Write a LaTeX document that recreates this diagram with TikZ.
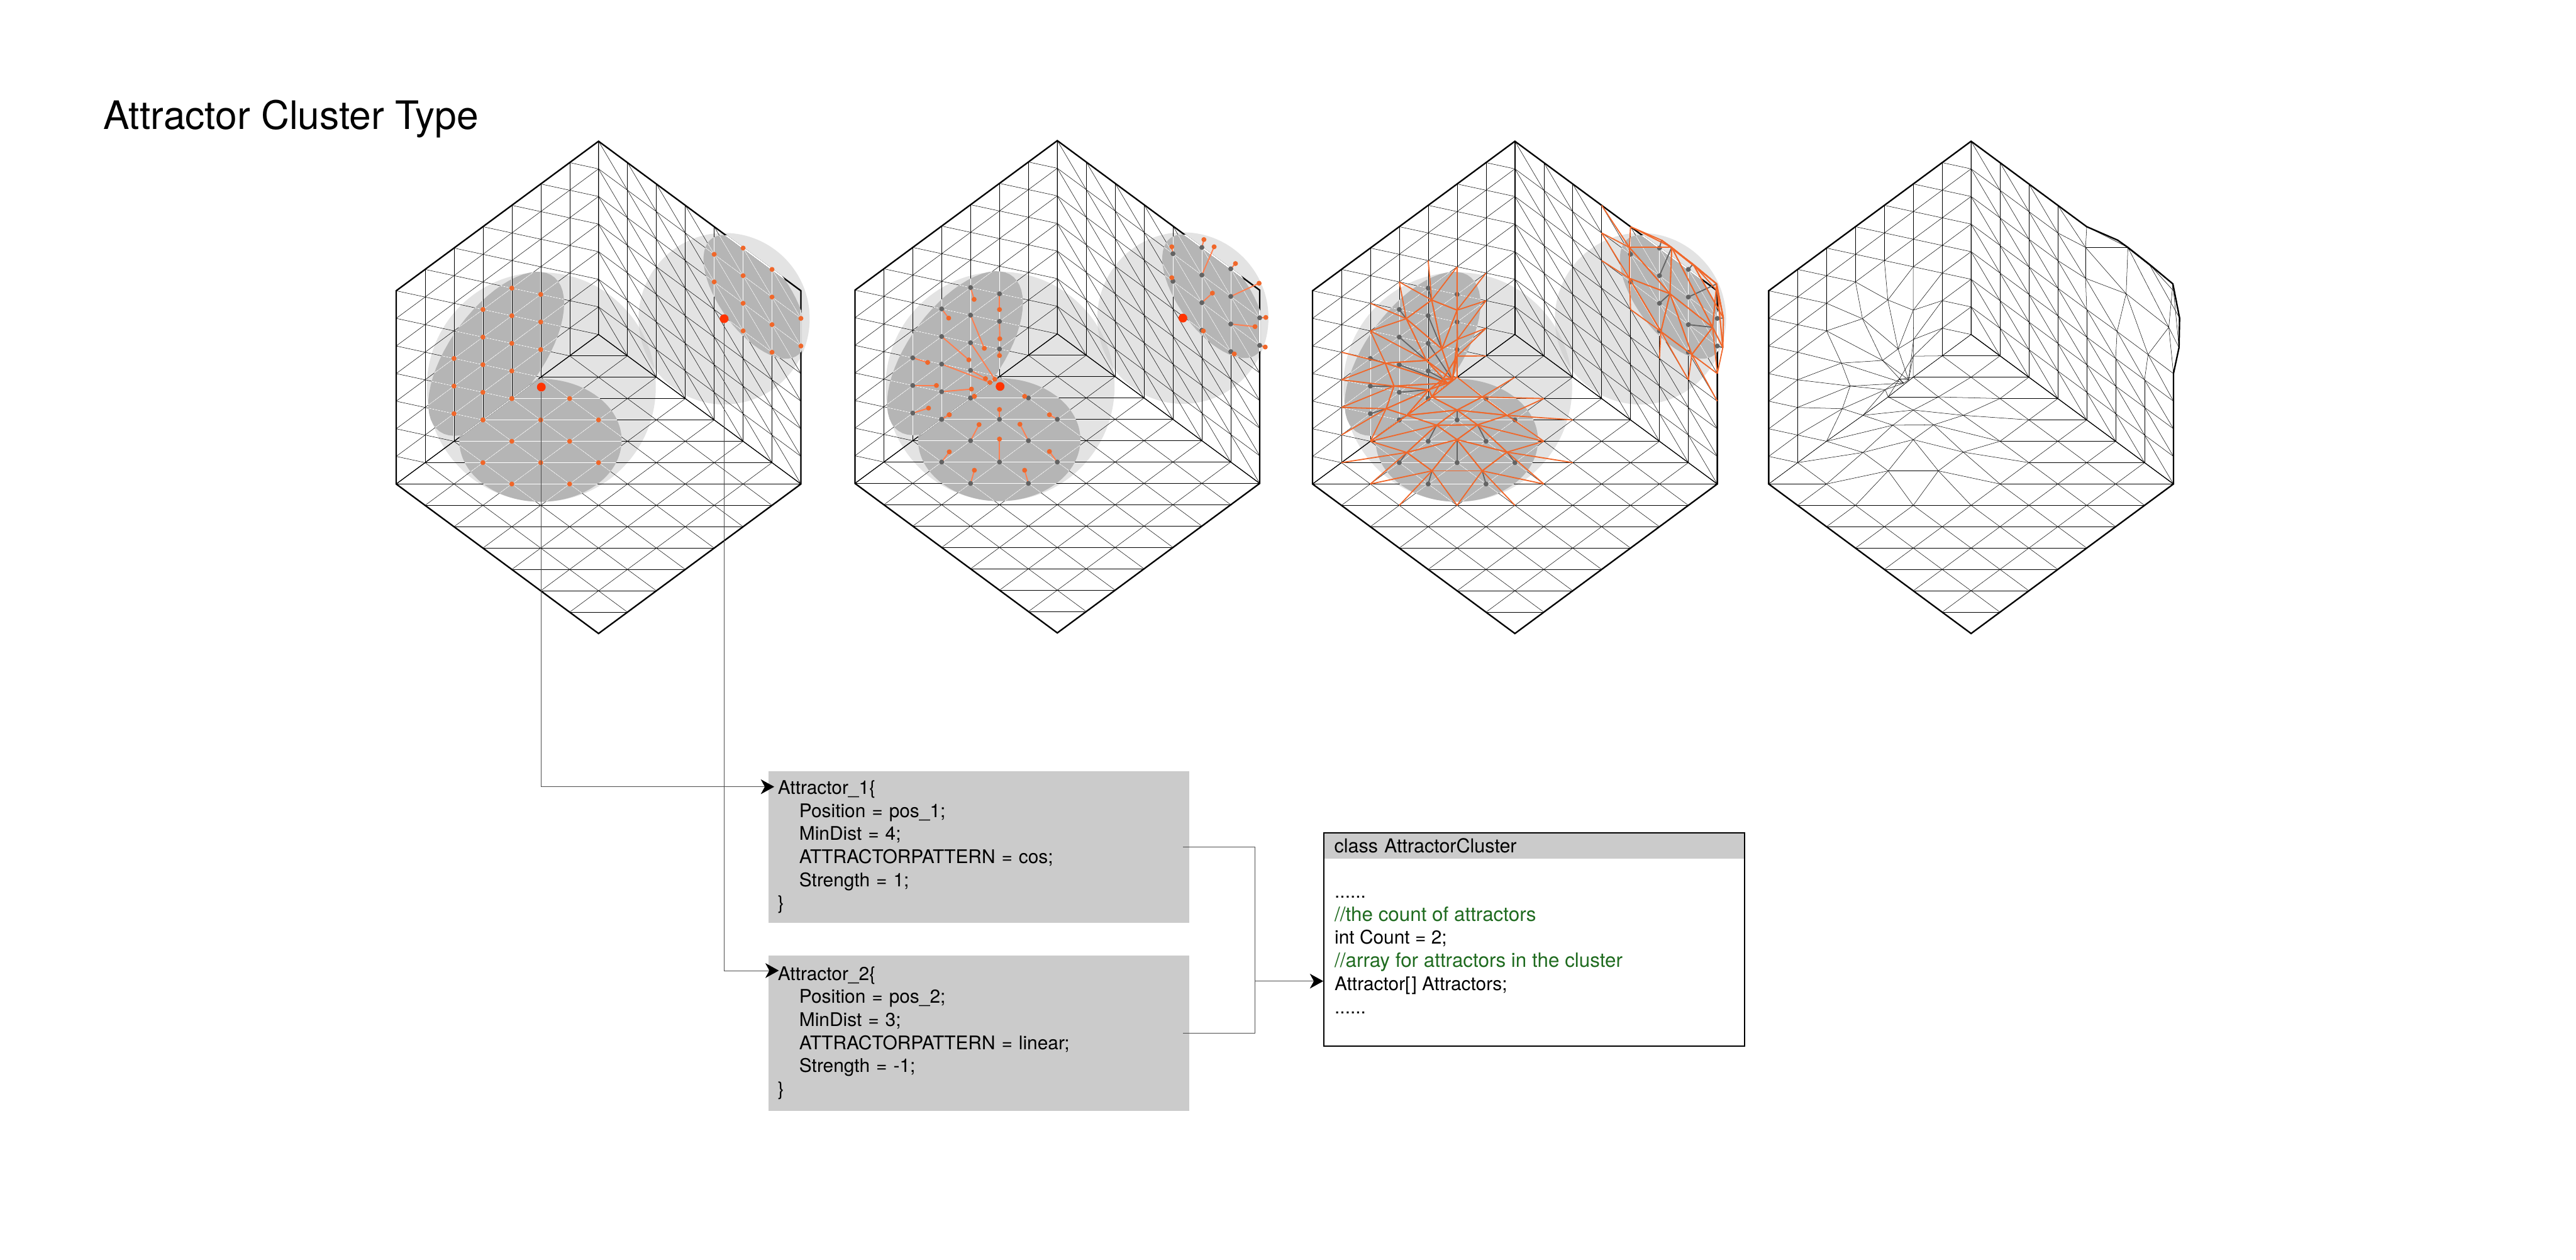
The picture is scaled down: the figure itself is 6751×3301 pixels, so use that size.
\documentclass[tikz,border=0pt]{standalone}
\usepackage{fontspec}
\setmainfont{TeX Gyre Heros}
\usepackage{xcolor}
\usetikzlibrary{arrows.meta, positioning}

\definecolor{boxgray}{HTML}{CBCBCB}
\definecolor{blobgray}{HTML}{B5B5B5}
\definecolor{halogray}{HTML}{E3E3E3}
\definecolor{overlapgray}{HTML}{D4D4D4}
\definecolor{moveorange}{HTML}{F0672A}
\definecolor{pullcoral}{HTML}{FF7F50}
\definecolor{pointred}{HTML}{FF3300}
\definecolor{dotgray}{HTML}{636363}
\definecolor{commentgreen}{HTML}{1F6B1F}

\newcommand{\movedlist}{%
L/4/4/458/518,L/5/3/545/549,L/3/4/371/575,L/4/3/493/667,L/5/2/546/638,L/3/3/440/702,%
L/4/2/529/761,L/5/1/545/689,L/2/3/299/710,L/3/2/512/771,L/4/1/497/759,L/2/2/329/780,%
L/3/1/449/791,L/4/0/459/813,L/2/1/302/849,L/3/0/373/869,%
F/0/3/459/813,F/0/4/373/869,F/1/2/631/813,F/1/3/545/853,F/2/2/716/869,F/1/4/475/899,%
F/2/3/615/898,F/1/5/373/982,F/2/4/545/943,F/3/3/716/981,F/2/5/459/1038,F/3/4/631/1038,%
R/4/6/1135/358,R/4/5/1135/452,R/5/7/1245/336,R/5/6/1280/358,R/5/5/1274/499,R/5/4/1243/614,%
R/6/7/1353/409,R/6/6/1434/469,R/6/5/1420/601,R/6/4/1349/684,R/7/6/1457/573,R/7/5/1455/663}

\newcommand{\makemesh}{
  \foreach \i in {0,...,7}{\foreach \j in {0,...,7}{
    \coordinate (L\i\j) at ({50+99*\i},{1078-65*\i-84*\j});
    \coordinate (R\i\j) at ({743+99*\i},{623+65*\i-84*\j});
    \coordinate (F\i\j) at ({743+99*(\i-\j)},{623+65*(\i+\j)});
    \coordinate (mL\i\j) at (L\i\j);
    \coordinate (mR\i\j) at (R\i\j);
    \coordinate (mF\i\j) at (F\i\j);
  }}
  \foreach \s/\i/\j/\x/\y in \movedlist {\coordinate (m\s\i\j) at (\x,\y);}
}

\newcommand{\meshlines}[3]{
  \foreach \i in {0,...,7}{\foreach \j in {0,...,7}{
    \pgfmathtruncatemacro\iup{\i+1}
    \pgfmathtruncatemacro\jup{\j+1}
    \pgfmathtruncatemacro\jdn{\j-1}
    \ifnum\i<7 \draw[#3] (#2#1\i\j) -- (#2#1\iup\j); \fi
    \ifnum\j<7 \draw[#3] (#2#1\i\j) -- (#2#1\i\jup); \fi
    \ifnum\i<7 \ifnum\j>0 \draw[#3] (#2#1\i\j) -- (#2#1\iup\jdn); \fi\fi
  }}
}

\newcommand{\movededges}[1]{
  \foreach \s/\i/\j/\x/\y in \movedlist {
    \foreach \di/\dj in {1/0,-1/0,0/1,0/-1,1/-1,-1/1}{
      \pgfmathtruncatemacro\ku{\i+\di}
      \pgfmathtruncatemacro\kv{\j+\dj}
      \pgfmathtruncatemacro\inrange{(\ku>=0)*(\ku<=7)*(\kv>=0)*(\kv<=7)}
      \ifnum\inrange=1 \draw[#1] (m\s\i\j) -- (m\s\ku\kv); \fi
    }
  }
}

\newcommand{\haloA}{(547,783) ellipse [x radius=392, y radius=349]}
\newcommand{\haloB}{(1173,575) ellipse [x radius=293, y radius=261]}
\newcommand{\blobL}{plot[domain=0:360,samples=60] ({50+99*(3.46+2.35*cos(\x))},{1078-65*(3.46+2.35*cos(\x))-84*(2.04+2.35*sin(\x))}) -- cycle}
\newcommand{\blobR}{plot[domain=0:360,samples=60] ({743+99*(5.4+1.77*cos(\x))},{623+65*(5.4+1.77*cos(\x))-84*(5.54+1.77*sin(\x))}) -- cycle}
\newcommand{\blobF}{(544,945) ellipse [x radius=278, y radius=187]}

\newcommand{\hexbase}{
  \fill[halogray] \haloA;
  \fill[halogray] \haloB;
  \begin{scope}
    \clip \haloB;
    \fill[overlapgray] \haloA;
  \end{scope}
  \begin{scope}
    \clip (L00) -- (L07) -- (L77) -- (L70) -- cycle;
    \fill[darkblob] \blobL;
  \end{scope}
  \begin{scope}
    \clip (R00) -- (R07) -- (R77) -- (R70) -- cycle;
    \fill[darkblob] \blobR;
  \end{scope}
  \begin{scope}
    \clip (F00) -- (F70) -- (F77) -- (F07) -- cycle;
    \fill[darkblob] \blobF;
  \end{scope}
  \meshlines{L}{}{meshline}
  \meshlines{R}{}{meshline}
  \meshlines{F}{}{meshline}
  \draw[seamline] (L00) -- (F00) -- (R70) (F00) -- (R07);
  \draw[hexline] (R07) -- (R77) -- (R70) -- (F77) -- (L00) -- (L07) -- cycle;
  \begin{scope}
    \clip \blobL;
    \meshlines{L}{}{maskline}
  \end{scope}
  \begin{scope}
    \clip \blobF;
    \meshlines{F}{}{maskline}
  \end{scope}
  \begin{scope}
    \clip \blobR;
    \meshlines{R}{}{maskline}
    \draw[hexline, white] (R07) -- (R77) -- (R70);
  \end{scope}
}

\begin{document}
\begin{tikzpicture}[
  x=0.01cm, y=-0.01cm,
  hexframe/.style={shift={#1}, xscale=0.7653, yscale=0.861},
  meshline/.style={line width=0.24pt, black},
  maskline/.style={line width=0.4pt, white},
  seamline/.style={line width=0.6pt, black},
  hexline/.style={line width=1.1pt, black},
  darkblob/.style={fill=blobgray},
  attractor/.style={circle, fill=pointred, inner sep=0pt, minimum size=0.23cm},
  conn/.style={line width=0.3pt, black!70},
  arrow/.style={conn, -{Stealth[length=10pt, width=11pt, inset=3pt, black]}},
  attrbox/.style={rectangle, fill=boxgray, text width=10.53cm, inner sep=0.24cm, align=left, font=\fontsize{14}{17.2}\selectfont},
  headbox/.style={rectangle, fill=boxgray, text width=10.47cm, inner xsep=0.27cm, inner ysep=0pt, minimum height=0.69cm, align=left, font=\fontsize{14.3}{17.2}\selectfont},
  framebox/.style={rectangle, draw=black, line width=1pt, minimum width=11.01cm, minimum height=5.59cm, inner sep=0pt},
  bodytext/.style={inner xsep=0.27cm, inner ysep=0pt, align=left, font=\fontsize{14}{17.2}\selectfont}
]
\useasboundingbox (0,0) rectangle (6751,3301);

\node (title) [anchor=base west, inner sep=0pt, font=\fontsize{29.2}{34}\selectfont] at (270,338) {Attractor Cluster Type};

\begin{scope}[hexframe={(1000,340)}]
  \makemesh
  \hexbase
  \foreach \s/\i/\j/\x/\y in \movedlist {
    \fill[moveorange] (\s\i\j) ellipse [x radius=8.5, y radius=7.5];
  }
  \node (attone) [attractor] at (547,783) {};
  \node (atttwo) [attractor] at (1173,575) {};
\end{scope}

\begin{scope}[hexframe={(2202.3,338.4)}]
  \makemesh
  \hexbase
  \foreach \s/\i/\j/\x/\y in \movedlist {
    \draw[line width=0.9pt, pullcoral] (\s\i\j) -- (m\s\i\j);
    \fill[dotgray] (\s\i\j) ellipse [x radius=8.5, y radius=7.5];
    \fill[moveorange] (m\s\i\j) ellipse [x radius=8.5, y radius=7.5];
  }
  \node (pullone) [attractor] at (547,783) {};
  \node (pulltwo) [attractor] at (1173,575) {};
\end{scope}

\begin{scope}[hexframe={(3401.5,340)}]
  \makemesh
  \hexbase
  \foreach \s/\i/\j/\x/\y in \movedlist {
    \draw[line width=0.85pt, dotgray] (\s\i\j) -- (m\s\i\j);
    \fill[dotgray] (\s\i\j) ellipse [x radius=8.5, y radius=7.5];
  }
  \movededges{line width=0.85pt, moveorange}
\end{scope}

\begin{scope}[hexframe={(4597,340)}]
  \makemesh
  \meshlines{L}{m}{meshline}
  \meshlines{R}{m}{meshline}
  \meshlines{F}{m}{meshline}
  \draw[seamline] (R07) -- (F00) -- (R70);
  \draw[hexline] (R07) -- (R47) -- (mR57) -- (mR56) -- (mR67) -- (mR66) -- (mR76) -- (mR75) -- (R74) -- (R70) -- (F77) -- (L00) -- (L07) -- cycle;
\end{scope}

\node (attrone) [attrbox, minimum height=3.92cm] at (2565.5,2219) {Attractor\_1\{\\
\hspace*{0.56cm}Position = pos\_1;\\
\hspace*{0.56cm}MinDist = 4;\\
\hspace*{0.56cm}ATTRACTORPATTERN = cos;\\
\hspace*{0.56cm}Strength = 1;\\
\}};
\node (attrtwo) [attrbox, minimum height=4.07cm, below=0.84cm of attrone] {Attractor\_2\{\\
\hspace*{0.56cm}Position = pos\_2;\\
\hspace*{0.56cm}MinDist = 3;\\
\hspace*{0.56cm}ATTRACTORPATTERN = linear;\\
\hspace*{0.56cm}Strength = -1;\\
\}};

\node (clusterhead) [headbox] at (4020.5,2215.5) {class AttractorCluster};
\node (clusterbox) [framebox, anchor=north] at (clusterhead.north) {};
\node (clusterbody) [bodytext, anchor=north west] at (3470,2347) {......\\
{\fontsize{14.7}{17.2}\selectfont\textcolor{commentgreen}{//the count of attractors}}\\
int Count = 2;\\
{\fontsize{14.7}{17.2}\selectfont\textcolor{commentgreen}{//array for attractors in the cluster}}\\
Attractor[\kern1pt] Attractors;\\
......};

\coordinate (inone) at (2029,2061.4);
\coordinate (intwo) at (2041,2543);
\coordinate (joint) at (3288.8,2570.7);

\draw [arrow] (attone) |- (inone);
\draw [arrow] (atttwo) |- (intwo);
\draw [conn] ([xshift=-0.16cm]attrone.east) -| (joint);
\draw [conn] ([xshift=-0.16cm]attrtwo.east) -| (joint);
\draw [arrow] (joint) -- (joint -| clusterbox.west);

\end{tikzpicture}
\end{document}
